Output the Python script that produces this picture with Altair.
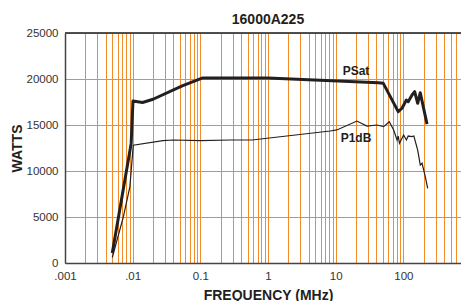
import altair as alt
import pandas as pd

# PSat (thick line)
psat_f = [0.005, 0.0095, 0.0101, 0.014, 0.02, 0.054, 0.106, 1.0, 42.7, 50.6,
          84, 95.6, 110.8, 118, 134.5, 147, 163, 178, 224]
psat_w = [1100, 13000, 17600, 17450, 17800, 19250, 20100, 20100, 19600, 19530,
          16450, 16820, 17720, 17530, 18260, 18620, 17360, 18510, 15100]

# P1dB (thin line)
p1_f = [0.005, 0.0073, 0.0091, 0.0102, 0.028, 0.04, 0.1, 0.28, 0.58, 8.3,
        10.4, 20.6, 29, 40.8, 51.2, 62, 72, 80.7, 84, 87.7,
        101, 111, 118, 134, 143, 163, 178, 189, 211, 229]
p1_w = [600, 5030, 8300, 12800, 13300, 13370, 13300, 13370, 13370, 14350,
        14460, 15430, 14890, 15000, 14820, 15350, 14460, 13370, 13800, 13010,
        13910, 13370, 13800, 13730, 13800, 12280, 10650, 10840, 9380, 8120]

x_labels = ['.001', '.01', '0.1', '1', '10', '100', '']
y_ticks = [0, 5000, 10000, 15000, 20000, 25000]
grid_x = [m * 10.0 ** k for k in range(-3, 3) for m in range(1, 10)] + [1000.0]

label_names = ['PSat', 'P1dB']
label_f = [20, 20]
label_w = [20870, 13550]

ORANGE = '#F28C28'
INK = '#231f20'

psat = pd.DataFrame({'f': psat_f, 'w': psat_w})
p1 = pd.DataFrame({'f': p1_f, 'w': p1_w})
labels = pd.DataFrame({'name': label_names, 'f': label_f, 'w': label_w})

lab_arr = '[' + ','.join("'" + s + "'" for s in x_labels) + ']'
label_expr = (
    "abs(log(datum.value)/LN10 - round(log(datum.value)/LN10)) < 1e-6 ? "
    + lab_arr + "[round(log(datum.value)/LN10) + 3] : ''"
)

xscale = alt.Scale(type='log', domain=[0.001, 1000], nice=False)
yscale = alt.Scale(domain=[0, 25000], nice=False)

xaxis = alt.Axis(values=grid_x, labelExpr=label_expr, title='FREQUENCY (MHz)',
                 grid=True, gridColor=ORANGE, gridWidth=1, gridOpacity=1,
                 ticks=False, labelPadding=7, labelFlush=False, labelOverlap=False,
                 labelFontSize=11.5, labelColor='#333', titleFontSize=14,
                 titleFontWeight='bold', titleColor=INK, titlePadding=7,
                 domainColor='#444', domainWidth=1.5)
yaxis = alt.Axis(values=y_ticks, format='d', title='WATTS',
                 grid=True, gridColor=ORANGE, gridWidth=1, gridOpacity=1,
                 ticks=False, labelPadding=7, labelFontSize=11.5, labelColor='#333',
                 titleFontSize=14, titleFontWeight='bold', titleColor=INK,
                 titlePadding=2, domainColor='#444', domainWidth=1.5)

base_x = alt.X('f:Q', scale=xscale, axis=xaxis)
base_y = alt.Y('w:Q', scale=yscale, axis=yaxis)

psat_line = alt.Chart(psat).mark_line(color=INK, strokeWidth=3, strokeJoin='round').encode(
    x=base_x, y=base_y)
p1_line = alt.Chart(p1).mark_line(color=INK, strokeWidth=1.2).encode(
    x=alt.X('f:Q', scale=xscale), y=alt.Y('w:Q', scale=yscale))
text = alt.Chart(labels).mark_text(fontSize=12, fontWeight='bold', color=INK,
                                   baseline='middle', align='center').encode(
    x=alt.X('f:Q', scale=xscale), y=alt.Y('w:Q', scale=yscale), text='name:N')
top_rule = alt.Chart(labels).mark_rule(color='#444', strokeWidth=1.5).encode(
    y=alt.datum(25000, scale=yscale))

chart = alt.layer(psat_line, p1_line, text, top_rule).properties(
    width=406, height=230,
    title=alt.TitleParams('16000A225', fontSize=14, fontWeight='bold',
                          anchor='middle', color=INK, offset=0),
    autosize=alt.AutoSizeParams(type='none'),
    padding={'left': 57, 'right': -10, 'top': 25, 'bottom': 40},
).configure_view(stroke=None).configure(font='Liberation Sans')

chart.save('out.html', embed_options={'renderer': 'svg', 'actions': False})
